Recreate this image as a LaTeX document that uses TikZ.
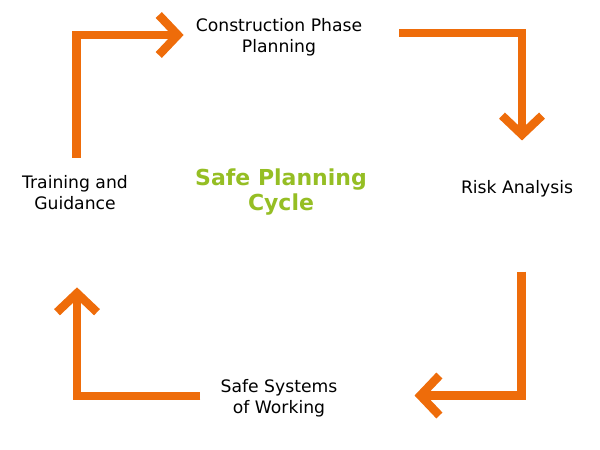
\documentclass[tikz,border=0pt]{standalone}
\usepackage{fontspec}
\setmainfont{DejaVu Sans}
\usepackage{tikz}
\usetikzlibrary{arrows.meta}
\definecolor{cycorange}{RGB}{238,108,10}
\definecolor{cycgreen}{RGB}{149,190,36}

\begin{document}
\begin{tikzpicture}[
  x=1pt, y=-1pt,
  stage/.style={align=center, inner sep=0pt, font=\fontsize{17.2}{21}\selectfont},
  title/.style={align=center, inner sep=0pt, text=cycgreen, font=\fontsize{22}{25}\selectfont\bfseries},
  cyc/.style={draw=cycorange, line width=8.5pt, -{Straight Barb[length=19pt, width=40pt]}}
]
\useasboundingbox (0,0) rectangle (600,450);
\node[stage] (plan) at (279,37) {Construction Phase\\Planning};
\node[stage] (risk) at (517,189) {Risk Analysis};
\node[stage] (safe) at (279,398) {Safe Systems\\of Working};
\node[stage] (train) at (75,193) {Training and\\Guidance};
\node[title] (cycle) at (281,192) {Safe Planning\\Cycle};

\draw[cyc, shorten <=18pt, shorten >=12pt] ([xshift=1.5pt]train.north) |- ([yshift=2pt]plan.west);
\draw[cyc, shorten <=37pt, shorten >=40pt] ([yshift=4pt]plan.east) -| ([xshift=5pt]risk.north);
\draw[cyc, shorten <=74pt, shorten >=77pt] ([xshift=4.5pt]risk.south) |- ([yshift=2.5pt]safe.east);
\draw[cyc, shorten <=20pt, shorten >=77pt] ([yshift=2pt]safe.west) -| ([xshift=2pt]train.south);
\end{tikzpicture}
\end{document}
